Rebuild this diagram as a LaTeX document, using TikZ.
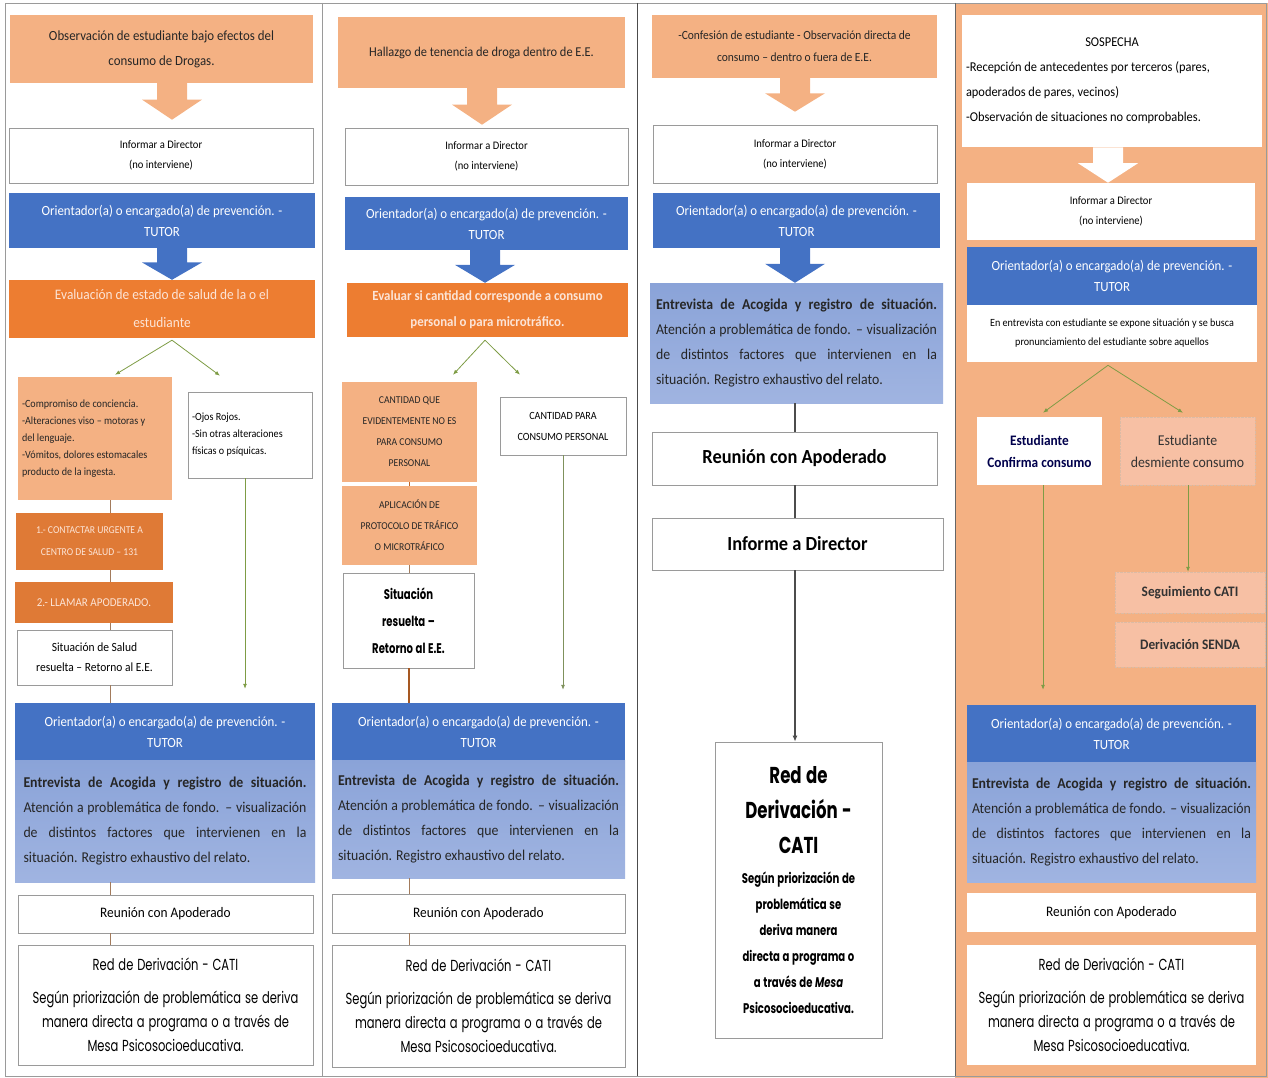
\documentclass[tikz,border=0pt]{standalone}
\usepackage{fontspec}
\setmainfont{Carlito}[FakeStretch=0.92]
\newfontfamily\gothic{Poppins}[FakeStretch=0.72, WordSpace=1.25]
\usetikzlibrary{calc,arrows.meta}

\definecolor{salmon}{HTML}{F4B183}
\definecolor{tutorblue}{HTML}{4472C4}
\definecolor{evalorange}{HTML}{ED7D31}
\definecolor{urgent}{HTML}{DF7A36}
\definecolor{lighttext}{HTML}{FCE4D6}
\definecolor{acogidatop}{HTML}{8AA3D8}
\definecolor{acogidabot}{HTML}{A0B4E1}
\definecolor{pinkbox}{HTML}{F7C0A4}
\definecolor{branch}{HTML}{7E9C45}
\definecolor{stemcol}{HTML}{A27B5C}
\definecolor{framegray}{HTML}{9A9A9A}

\newcommand{\informar}{Informar a Director\\(no interviene)}
\newcommand{\tutor}{Orientador(a) o encargado(a) de prevención. -\\TUTOR}
\newcommand{\acogida}{\textbf{Entrevista de Acogida y registro de situación.}\linebreak Atención a problemática de fondo. – visualización\linebreak de distintos factores que intervienen en la\linebreak situación. Registro exhaustivo del relato.}
\newcommand{\redderiv}{Red de Derivación - CATI\\[9pt]Según priorización de problemática se deriva\\manera directa a programa o a través de\\Mesa Psicosocioeducativa.}
\newcommand{\dirfont}{\fontsize{11.5}{20}\selectfont}

% block arrow between two boxes: fill, from, to, x, gap at the tip
\newcommand{\blockarrow}[5]{%
	\fill[#1] let \p1=(#2.south), \p2=(#3.north),
		\n1={\y2+#5}, \n2={\y1+0.45*(\y2+#5-(\y1))} in
		(#4-15,\y1) -- (#4+15,\y1) -- (#4+15,\n2) -- (#4+30,\n2)
		-- (#4,\n1) -- (#4-30,\n2) -- (#4-15,\n2) -- cycle;}

\begin{document}
\begin{tikzpicture}[
		x=1pt, y=1pt,
		every node/.style={inner xsep=4pt, inner ysep=2pt},
		sz/.code 2 args={\pgfmathsetmacro\boxtw{#1-8}%
			\edef\boxargs{minimum width=#1pt, minimum height=#2pt, text width=\boxtw pt}%
			\expandafter\pgfkeysalso\expandafter{\boxargs}},
		flowbox/.style={rectangle, align=flush center},
		salmonbox/.style={flowbox, fill=salmon, text=black!85},
		whitebox/.style={flowbox, fill=white, draw=framegray, line width=0.6pt},
		tutorbox/.style={flowbox, fill=tutorblue, text=white, font=\fontsize{14}{21}\selectfont},
		evalbox/.style={flowbox, fill=evalorange, text=lighttext},
		pinkstep/.style={flowbox, fill=pinkbox, draw=salmon!80!black!60, densely dotted, text=black!80, font=\fontsize{15}{22}\selectfont},
		acogidabox/.style={flowbox, top color=acogidatop, bottom color=acogidabot, text=black!85, align=justify, font=\fontsize{15}{25}\selectfont},
		redbox/.style={whitebox, font=\gothic\fontsize{16}{24}\selectfont},
		branchline/.style={draw=branch, line width=0.8pt, -{Latex[length=5pt,width=4pt]}},
		stemline/.style={draw=stemcol, line width=0.8pt}
		]
	\useasboundingbox (0,0) rectangle (1268,-1078);
	\fill[salmon] (955,-3) rectangle (1268,-1078);
	\draw[framegray, line width=0.8pt] (5,-3) rectangle (1266,-1076);
	\draw[framegray, line width=0.8pt] (322,-3) -- (322,-1076);
	\draw[black!70, line width=0.9pt] (637,-3) -- (637,-1076);
	\draw[black!60, line width=0.9pt] (955,-3) -- (955,-1076);

	\coordinate (s1) at (110,0);
	\coordinate (g1) at (245,0);
	\coordinate (s2) at (409,0);
	\coordinate (g2) at (563,0);
	\coordinate (s3) at (795,0);
	\coordinate (g4a) at (1043,0);
	\coordinate (g4b) at (1188,0);

	% column 1
	\node[salmonbox, sz={303}{68}, font=\fontsize{14}{25}\selectfont] (obs1) at (161.5,-49) {Observación de estudiante bajo efectos del\\consumo de Drogas.};
	\node[whitebox, sz={304}{55}, font=\dirfont] (dir1) at (161,-155.5) {\informar};
	\node[tutorbox, sz={306}{55}] (tut1) at (162,-220.5) {\tutor};
	\node[evalbox, sz={306}{58}, font=\fontsize{14.5}{28}\selectfont] (eva1) at (162,-309) {Evaluación de estado de salud de la o el\\estudiante};
	\node[salmonbox, sz={154}{123}, align=flush left, font=\fontsize{11}{17}\selectfont] (sint1) at (95,-438.5) {-Compromiso de conciencia.\\-Alteraciones viso – motoras y\\del lenguaje.\\-Vómitos, dolores estomacales\\producto de la ingesta.};
	\node[whitebox, sz={124}{86}, align=flush left, font=\fontsize{11}{17}\selectfont] (ojos1) at (250,-435) {-Ojos Rojos.\\-Sin otras alteraciones\\físicas o psíquicas.};
	\node[evalbox, fill=urgent, sz={147}{57}, font=\fontsize{10.5}{22}\selectfont] (cont1) at (89.5,-541.5) {1.- CONTACTAR URGENTE A\\CENTRO DE SALUD – 131};
	\node[evalbox, fill=urgent, sz={158}{41}, font=\fontsize{12}{16}\selectfont] (llam1) at (94,-602.5) {2.- LLAMAR APODERADO.};
	\node[whitebox, sz={155}{55}, font=\fontsize{12.5}{20}\selectfont] (sit1) at (94.5,-657.5) {Situación de Salud\\resuelta – Retorno al E.E.};
	\node[tutorbox, sz={300}{57}] (tut1b) at (165,-731.5) {\tutor};
	\node[acogidabox, sz={300}{122}, text width=283pt] (ent1) at (165,-821) {\acogida};
	\node[whitebox, sz={295}{38}, font=\fontsize{14.5}{16}\selectfont] (reu1) at (165.5,-914) {Reunión con Apoderado};
	\node[redbox, sz={295}{120}] (red1) at (165.5,-1005) {\redderiv};

	\blockarrow{salmon}{obs1}{dir1}{172}{8}
	\blockarrow{tutorblue}{tut1}{eva1}{172}{0}
	\draw[branchline] ([xshift=10pt,yshift=-2pt]eva1.south) -- ([xshift=20pt,yshift=2pt]sint1.north);
	\draw[branchline] ([xshift=10pt,yshift=-2pt]eva1.south) -- ([xshift=-30pt,yshift=16pt]ojos1.north);
	\draw[stemline] (sint1.south -| s1) -- (cont1.north -| s1);
	\draw[stemline] (cont1.south -| s1) -- (llam1.north -| s1);
	\draw[stemline] (llam1.south -| s1) -- (sit1.north -| s1);
	\draw[stemline] (sit1.south -| s1) -- (tut1b.north -| s1);
	\draw[branchline, shorten >=14pt] (ojos1.south -| g1) -- (tut1b.north -| g1);
	\draw[stemline] (ent1.south -| s1) -- (reu1.north -| s1);
	\draw[stemline] (reu1.south -| s1) -- (red1.north -| s1);

	% column 2
	\node[salmonbox, sz={287}{71}, font=\fontsize{13.5}{25}\selectfont] (obs2) at (481.5,-52.5) {Hallazgo de tenencia de droga dentro de E.E.};
	\node[whitebox, sz={283}{57}, font=\dirfont] (dir2) at (486.5,-156.5) {\informar};
	\node[tutorbox, sz={283}{53}] (tut2) at (486.5,-223.5) {\tutor};
	\node[evalbox, sz={281}{54}, font=\bfseries\fontsize{14}{26}\selectfont] (eva2) at (487.5,-310) {Evaluar si cantidad corresponde a consumo\\personal o para microtráfico.};
	\node[salmonbox, sz={135}{100}, font=\fontsize{10.5}{21}\selectfont] (cant2) at (409.5,-432) {CANTIDAD QUE\\EVIDENTEMENTE NO ES\\PARA CONSUMO\\PERSONAL};
	\node[salmonbox, sz={135}{79}, font=\fontsize{10.5}{21}\selectfont] (prot2) at (409.5,-525.5) {APLICACIÓN DE\\PROTOCOLO DE TRÁFICO\\O MICROTRÁFICO};
	\node[whitebox, sz={131}{95}, font=\gothic\bfseries\fontsize{14}{27}\selectfont] (sit2) at (408.5,-620.5) {Situación\\resuelta –\\Retorno al E.E.};
	\node[whitebox, sz={126}{58}, font=\fontsize{11}{21}\selectfont] (pers2) at (563,-426) {CANTIDAD PARA\\CONSUMO PERSONAL};
	\node[tutorbox, sz={293}{57}] (tut2b) at (478.5,-731.5) {\tutor};
	\node[acogidabox, sz={293}{118}, text width=281pt] (ent2) at (478.5,-819) {\acogida};
	\node[whitebox, sz={293}{39}, font=\fontsize{14.5}{16}\selectfont] (reu2) at (478.5,-913.5) {Reunión con Apoderado};
	\node[redbox, sz={293}{122}] (red2) at (478.5,-1006) {\redderiv};

	\blockarrow{salmon}{obs2}{dir2}{482}{3}
	\blockarrow{tutorblue}{tut2}{eva2}{485}{0}
	\draw[branchline] ([xshift=-2.5pt,yshift=-3pt]eva2.south) -- ([xshift=43.5pt,yshift=7pt]cant2.north);
	\draw[branchline] ([xshift=-2.5pt,yshift=-3pt]eva2.south) -- ([xshift=-43pt,yshift=22pt]pers2.north);
	\draw[stemline, draw=evalorange!80!black] (cant2.south -| s2) -- (prot2.north -| s2);
	\draw[stemline, draw=stemcol] (prot2.south -| s2) -- (sit2.north -| s2);
	\draw[stemline, draw=evalorange!70!black, line width=1.3pt] (sit2.south -| s2) -- (tut2b.north -| s2);
	\draw[branchline, draw=branch!60!gray, shorten >=13pt] (pers2.south -| g2) -- (tut2b.north -| g2);
	\draw[stemline] (ent2.south -| s2) -- (reu2.north -| s2);
	\draw[stemline] (reu2.south -| s2) -- (red2.north -| s2);

	% column 3
	\node[salmonbox, sz={285}{63}, font=\fontsize{12.5}{22}\selectfont] (obs3) at (794.5,-46.5) {-Confesión de estudiante - Observación directa de\\consumo – dentro o fuera de E.E.};
	\node[whitebox, sz={284}{58}, font=\dirfont] (dir3) at (795,-154) {\informar};
	\node[tutorbox, sz={287}{55}] (tut3) at (796.5,-220.5) {\tutor};
	\node[acogidabox, sz={293}{120}, text width=281pt] (ent3) at (796.5,-343) {\acogida};
	\node[whitebox, sz={285}{53}, font=\bfseries\fontsize{20}{24}\selectfont] (reu3) at (794.5,-458.5) {Reunión con Apoderado};
	\node[whitebox, sz={291}{52}, font=\bfseries\fontsize{20}{24}\selectfont] (inf3) at (797.5,-544) {Informe a Director};
	\node[whitebox, sz={167}{296}, font=\gothic\bfseries\fontsize{14}{26}\selectfont] (red3) at (798.5,-890) {{\fontsize{23}{35}\selectfont Red de\\Derivación -\\CATI\par}\vspace{4pt}Según priorización de\\problemática se\\deriva manera\\directa a programa o\\a través de \textit{Mesa}\\Psicosocioeducativa.};

	\blockarrow{salmon}{obs3}{dir3}{795}{13}
	\blockarrow{tutorblue}{tut3}{ent3}{795}{0}
	\draw[black!70, line width=1.3pt] (ent3.south -| s3) -- (reu3.north -| s3);
	\draw[black!70, line width=1.3pt] (reu3.south -| s3) -- (inf3.north -| s3);
	\draw[black!70, line width=1.3pt, -{Latex[length=6pt,width=5pt]}] (inf3.south -| s3) -- (red3.north -| s3);

	% column 4
	\node[whitebox, draw=none, sz={300}{132}, align=flush left, font=\fontsize{13.5}{25}\selectfont] (sos4) at (1112,-81) {\makebox[\hsize]{SOSPECHA}\\-Recepción de antecedentes por terceros (pares,\\apoderados de pares, vecinos)\\-Observación de situaciones no comprobables.};
	\node[whitebox, draw=none, sz={288}{57}, font=\dirfont] (dir4) at (1111,-211.5) {\informar};
	\node[tutorbox, sz={290}{58}] (tut4) at (1112,-276) {\tutor};
	\node[whitebox, draw=none, sz={290}{57}, font=\fontsize{11}{19}\selectfont] (exp4) at (1112,-333.5) {En entrevista con estudiante se expone situación y se busca\\pronunciamiento del estudiante sobre aquellos};
	\node[whitebox, draw=none, sz={125}{68}, text=blue!30!black, font=\bfseries\fontsize{14.5}{22}\selectfont] (conf4) at (1039.5,-451) {Estudiante\\Confirma consumo};
	\node[pinkstep, sz={135}{68}] (desm4) at (1187.5,-451) {Estudiante\\desmiente consumo};
	\node[pinkstep, sz={150}{41}, font=\bfseries\fontsize{14.5}{22}\selectfont] (seg4) at (1190,-592.5) {Seguimiento CATI};
	\node[pinkstep, sz={150}{45}, font=\bfseries\fontsize{14.5}{22}\selectfont] (sen4) at (1190,-644.5) {Derivación SENDA};
	\node[tutorbox, sz={289}{57}] (tut4b) at (1111.5,-733.5) {\tutor};
	\node[acogidabox, sz={289}{120}, text width=279pt] (ent4) at (1111.5,-822) {\acogida};
	\node[whitebox, draw=none, sz={289}{39}, font=\fontsize{14.5}{16}\selectfont] (reu4) at (1111.5,-912.5) {Reunión con Apoderado};
	\node[redbox, draw=none, sz={289}{120}] (red4) at (1111.5,-1005) {\redderiv};

	\blockarrow{white}{sos4}{dir4}{1108}{0}
	\draw[branchline] ([xshift=-4pt,yshift=-3pt]exp4.south) -- ([xshift=3.5pt,yshift=4pt]conf4.north);
	\draw[branchline] ([xshift=-4pt,yshift=-3pt]exp4.south) -- ([xshift=-4.5pt,yshift=4pt]desm4.north);
	\draw[branchline] (desm4.south -| g4b) -- (seg4.north -| g4b);
	\draw[branchline, shorten >=15pt] (conf4.south -| g4a) -- (tut4b.north -| g4a);
\end{tikzpicture}
\end{document}
